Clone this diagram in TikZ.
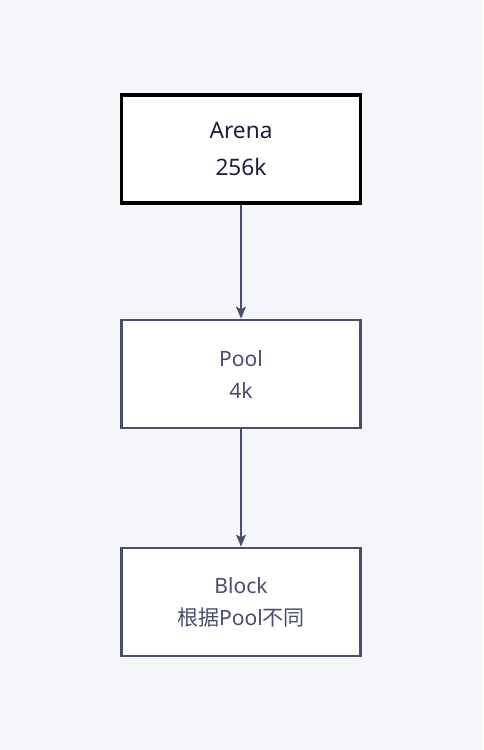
\documentclass[tikz,border=0pt]{standalone}
\usepackage{fontspec}
\setmainfont{Noto Sans}
\newfontfamily\cjk{Noto Sans CJK SC}
\usetikzlibrary{arrows.meta}
\definecolor{bgcol}{HTML}{F5F6FA}
\definecolor{edgecol}{HTML}{4A4E69}
\definecolor{inkcol}{HTML}{1E1E3C}
\tikzset{
  stagebox/.style={draw=edgecol, line width=2.1pt, fill=white, rectangle,
    minimum width=179.25pt, minimum height=81pt, align=center, text=edgecol,
    font=\fontsize{15.8pt}{24pt}\selectfont},
  topbox/.style={stagebox, draw=black, line width=2.4pt, text=inkcol,
    font=\fontsize{17pt}{27.75pt}\selectfont},
  link/.style={draw=edgecol, line width=1.1pt, -{Stealth[length=9pt,width=7.5pt,inset=2pt]}}
}

\begin{document}
\begin{tikzpicture}[x=0.75pt, y=-0.75pt]
		%%%%% START %%%%%
		
		\fill[bgcol] (0, 0) rectangle (483, 750);
		
		\node[topbox] (arena) at (241, 149) {Arena\\256k};
		\node[stagebox] (pool) at (241, 374) {Pool\\4k};
		\node[stagebox] (block) at (241, 602) {Block\\{\cjk 根据}Pool{\cjk 不同}};
		
		\draw[link] (arena.south) -- (pool.north);
		\draw[link] (pool.south) -- (block.north);
		
		%%%%% END %%%%%
	\end{tikzpicture}
\end{document}
